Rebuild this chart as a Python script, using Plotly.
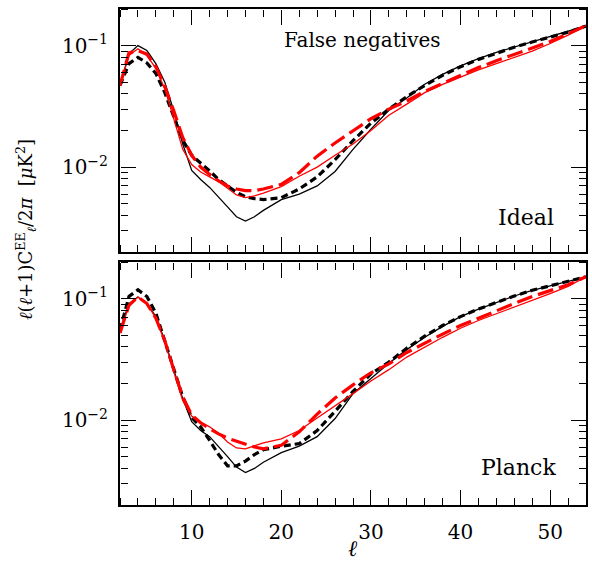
import plotly.graph_objects as go
from plotly.subplots import make_subplots

ell = [2, 3, 4, 5, 6, 7, 8, 9, 10, 11, 12, 13, 14, 15, 16, 17, 18, 20, 22, 24,
       26, 28, 30, 32, 34, 36, 38, 40, 42, 44, 46, 48, 50, 52, 54]

# Ideal (top panel)
ideal_black_solid = [0.047, 0.0855, 0.100, 0.091, 0.071, 0.050, 0.029, 0.0155, 0.0094, 0.0079,
                     0.0068, 0.0057, 0.0047, 0.0039, 0.0036, 0.0039, 0.0044, 0.0054, 0.0060, 0.0070,
                     0.0092, 0.0140, 0.0205, 0.0293, 0.037, 0.048, 0.058, 0.068, 0.078, 0.088,
                     0.097, 0.107, 0.118, 0.130, 0.145]
ideal_black_dash = [0.047, 0.071, 0.080, 0.072, 0.059, 0.041, 0.026, 0.0166, 0.0125, 0.0108,
                    0.0093, 0.0079, 0.0070, 0.0062, 0.0057, 0.0055, 0.0054, 0.0056, 0.0066, 0.0083,
                    0.0115, 0.0165, 0.023, 0.030, 0.038, 0.047, 0.057, 0.067, 0.077, 0.087,
                    0.097, 0.107, 0.117, 0.129, 0.145]
ideal_red_solid = [0.047, 0.083, 0.094, 0.083, 0.065, 0.044, 0.025, 0.0140, 0.0105, 0.0091,
                   0.0083, 0.0076, 0.0067, 0.0059, 0.0056, 0.0058, 0.0061, 0.0069, 0.0084, 0.0100,
                   0.0125, 0.0155, 0.0200, 0.0267, 0.033, 0.041, 0.048, 0.055, 0.063, 0.071,
                   0.080, 0.090, 0.104, 0.122, 0.146]
ideal_red_dash = [0.047, 0.087, 0.091, 0.085, 0.067, 0.046, 0.029, 0.0175, 0.0125, 0.0100,
                  0.0087, 0.0077, 0.0070, 0.0066, 0.0064, 0.0064, 0.0066, 0.0072, 0.0090, 0.0123,
                  0.0158, 0.0198, 0.025, 0.030, 0.035, 0.042, 0.049, 0.057, 0.066, 0.075,
                  0.085, 0.096, 0.108, 0.125, 0.146]

# Planck (bottom panel)
planck_black_solid = [0.055, 0.091, 0.103, 0.091, 0.071, 0.045, 0.026, 0.0150, 0.0097, 0.0082,
                      0.0073, 0.0061, 0.0050, 0.0041, 0.0037, 0.0040, 0.0045, 0.0054, 0.0061, 0.0073,
                      0.0103, 0.0165, 0.0218, 0.0293, 0.038, 0.048, 0.059, 0.071, 0.082, 0.093,
                      0.105, 0.117, 0.128, 0.139, 0.151]
planck_black_dash = [0.055, 0.104, 0.118, 0.104, 0.076, 0.045, 0.026, 0.0155, 0.0105, 0.0088,
                     0.0068, 0.0052, 0.0042, 0.0042, 0.0046, 0.0052, 0.0057, 0.0061, 0.0064, 0.0082,
                     0.0118, 0.0172, 0.024, 0.030, 0.039, 0.049, 0.060, 0.071, 0.082, 0.093,
                     0.105, 0.117, 0.128, 0.139, 0.151]
planck_red_solid = [0.052, 0.088, 0.103, 0.091, 0.069, 0.044, 0.025, 0.0145, 0.0108, 0.0096,
                    0.0088, 0.0078, 0.0066, 0.0059, 0.0058, 0.0061, 0.0065, 0.0070, 0.0082, 0.0104,
                    0.0130, 0.0165, 0.0210, 0.026, 0.033, 0.040, 0.048, 0.057, 0.066, 0.075,
                    0.085, 0.097, 0.110, 0.126, 0.151]
planck_red_dash = [0.052, 0.088, 0.103, 0.091, 0.069, 0.045, 0.026, 0.0155, 0.0110, 0.0095,
                   0.0085, 0.0077, 0.0071, 0.0067, 0.0064, 0.0060, 0.0058, 0.0062, 0.0080, 0.0112,
                   0.0152, 0.0195, 0.0245, 0.029, 0.036, 0.043, 0.051, 0.060, 0.069, 0.080,
                   0.091, 0.104, 0.116, 0.130, 0.151]

FONT = "DejaVu Serif"
X_RANGE = [2, 54]
Y_RANGE = [-2.69897, -0.69897]   # log10 of 0.002 .. 0.2
major_y = [0.01, 0.1]
minor_y = [0.002, 0.003, 0.004, 0.005, 0.006, 0.007, 0.008, 0.009,
           0.02, 0.03, 0.04, 0.05, 0.06, 0.07, 0.08, 0.09, 0.2]

def addCurves(fig, row, black_solid, black_dash, red_solid, red_dash):
    styles = [(black_solid, "black", 1.3, "solid"),
              (black_dash, "black", 3.2, "7px,4px"),
              (red_solid, "red", 1.3, "solid"),
              (red_dash, "red", 3.2, "16px,6px")]
    for vals, col, w, dash in styles:
        fig.add_trace(go.Scatter(x = ell, y = vals, mode = "lines",
                                 line = {"color": col, "width": w, "dash": dash},
                                 showlegend = False), row = row, col = 1)

fig = make_subplots(rows = 2, cols = 1, shared_xaxes = True, vertical_spacing = 10/496)
addCurves(fig, 1, ideal_black_solid, ideal_black_dash, ideal_red_solid, ideal_red_dash)
addCurves(fig, 2, planck_black_solid, planck_black_dash, planck_red_solid, planck_red_dash)

# frame + labels on the main axes (their own ticks stay off)
for r in [1, 2]:
    fig.update_xaxes(range = X_RANGE, tickmode = "linear", tick0 = 0, dtick = 10, ticks = "",
                     showline = True, linewidth = 2, linecolor = "black", mirror = True,
                     showgrid = False, zeroline = False, ticklabelstandoff = 8,
                     tickfont = {"family": FONT, "size": 20, "color": "black"},
                     showticklabels = (r == 2), row = r, col = 1)
    fig.update_yaxes(type = "log", range = Y_RANGE, tickmode = "array", tickvals = major_y,
                     ticktext = ["10<sup>\u22122</sup>", "10<sup>\u22121</sup>"], ticks = "",
                     showline = True, linewidth = 2, linecolor = "black", mirror = True,
                     showgrid = False, zeroline = False, ticklabelstandoff = 6,
                     tickfont = {"family": FONT, "size": 20, "color": "black"},
                     row = r, col = 1)

# ticks pointing into each panel: free overlay axes whose "outside" faces the plot
tick_style = {"anchor": "free", "ticks": "outside", "ticklen": 15, "tickwidth": 1.2,
              "tickcolor": "black", "showline": False, "showgrid": False,
              "zeroline": False, "showticklabels": False}
x_minor = {"dtick": 2, "tick0": 0, "ticks": "outside", "ticklen": 7,
           "tickwidth": 1.2, "tickcolor": "black"}
y_minor = {"tickmode": "array", "tickvals": minor_y, "ticks": "outside", "ticklen": 7,
           "tickwidth": 1.2, "tickcolor": "black"}

# one invisible point per overlay axis so plotly builds that subplot
hidden = {"mode": "markers", "marker": {"opacity": 0, "size": 1},
          "showlegend": False, "hoverinfo": "skip"}

n = 3
for xa, ya, yname in [("x", "y", "yaxis"), ("x2", "y2", "yaxis2")]:
    dom = fig.layout[yname].domain
    for pos, side in [(dom[1], "bottom"), (dom[0], "top")]:
        fig.update_layout({"xaxis%d" % n: dict(overlaying = xa, position = pos, side = side,
                                               range = X_RANGE, tickmode = "linear", tick0 = 0,
                                               dtick = 10, minor = x_minor, **tick_style)})
        fig.add_trace(go.Scatter(x = [ell[0]], y = [ideal_black_solid[0]],
                                 xaxis = "x%d" % n, yaxis = ya, **hidden))
        n += 1
m = 3
for xa, ya in [("x", "y"), ("x2", "y2")]:
    for pos, side in [(0, "right"), (1, "left")]:
        fig.update_layout({"yaxis%d" % m: dict(overlaying = ya, position = pos, side = side,
                                               type = "log", range = Y_RANGE, tickmode = "array",
                                               tickvals = major_y, minor = y_minor, **tick_style)})
        fig.add_trace(go.Scatter(x = [ell[0]], y = [ideal_black_solid[0]],
                                 xaxis = xa, yaxis = "y%d" % m, **hidden))
        m += 1

annots = [
    dict(text = "False negatives", x = 0.52, y = 0.9375, xanchor = "center", yanchor = "middle"),
    dict(text = "Ideal", x = 0.935, y = 0.58, xanchor = "right", yanchor = "middle", font_size = 22),
    dict(text = "Planck", x = 0.94, y = 0.075, xanchor = "right", yanchor = "middle", font_size = 22),
    dict(text = "<i>\u2113</i>", x = 0.5, y = -0.087, xanchor = "center", yanchor = "middle", font_size = 22),
    dict(text = "<i>\u2113</i>(<i>\u2113</i>+1)C<sup>EE</sup><sub><i>\u2113</i></sub>/2<i>\u03c0</i>  [<i>\u03bc</i>K<sup>2</sup>]",
         x = -0.203, y = 0.555, xanchor = "center", yanchor = "middle", textangle = -90, font_size = 18),
]
for a in annots:
    fs = a.pop("font_size", 20)
    fig.add_annotation(xref = "paper", yref = "paper", showarrow = False,
                       font = {"family": FONT, "size": fs, "color": "black"}, **a)

fig.update_layout({"width": 592, "height": 564,
                   "margin": {"l": 120, "r": 4, "t": 9, "b": 59},
                   "plot_bgcolor": "white", "paper_bgcolor": "white"})

# drop the page's default 8px body margin so the figure sits at the window's corner
fig.write_html("out.html", config = {"displayModeBar": False},
               post_script = "document.body.style.margin = '0';")
